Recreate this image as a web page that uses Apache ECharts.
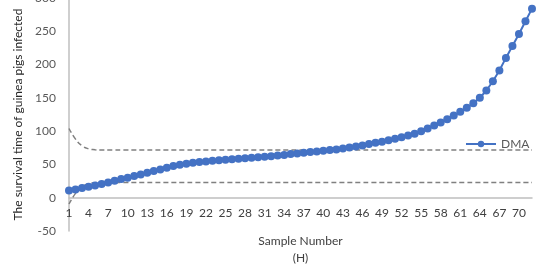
<!DOCTYPE html>
<html>
<head>
<meta charset="utf-8">
<script src="https://cdn.jsdelivr.net/npm/echarts@6/dist/echarts.min.js"></script>
<style>
html,body{margin:0;padding:0;background:#fff;}
#chart{width:543px;height:276px;}
</style>
</head>
<body>
<div id="chart"></div>
<script>
var categories = [];
for (var i = 1; i <= 72; i++) categories.push(String(i));

var dma = [11, 12.5, 14.5, 16.5, 18.5, 20.5, 23, 25.5, 28, 30,
  32.5, 35, 37.5, 40, 42.5, 45, 47.5, 49.5, 51, 52.5,
  53.5, 54.5, 55.5, 56.3, 57, 57.8, 58.5, 59.2, 60, 60.8,
  61.6, 62.4, 63.3, 64.2, 65.5, 66.5, 67.5, 68.5, 69.5, 70.5,
  71.5, 72.5, 74, 75.5, 77, 78.5, 80.5, 82.5, 84, 86.5,
  88.5, 91, 93.5, 96, 100, 104, 108.5, 113, 118, 123.5,
  129, 135, 142, 150, 161, 175, 191, 210, 228, 246,
  265, 284];

var upperHead = [104, 88, 78, 73.5, 72];
var upperFlat = 71.5;
var lowerHead = [-9.5, 6.5, 16.5, 21, 22.5];
var lowerFlat = 23;

var upper = [], lower = [];
for (var k = 0; k < categories.length; k++) {
  upper.push(k < upperHead.length ? upperHead[k] : upperFlat);
  lower.push(k < lowerHead.length ? lowerHead[k] : lowerFlat);
}

var yTicks = {min: -50, max: 300, interval: 50};
var FONT = 'Lato';

var chart = echarts.init(document.getElementById('chart'), null, {renderer: 'canvas'});
chart.setOption({
  animation: false,
  textStyle: {fontFamily: FONT},
  grid: {left: 69, right: 11, top: -2, bottom: 45, containLabel: false, outerBoundsMode: 'none'},
  legend: {
    data: [{name: 'DMA'}],
    left: 460, top: 133,
    itemWidth: 30, itemHeight: 8, itemGap: 5,
    textStyle: {fontFamily: FONT, fontSize: 12, color: '#595959'}
  },
  xAxis: {
    type: 'category',
    data: categories,
    boundaryGap: false,
    offset: -33,
    axisLine: {onZero: false, lineStyle: {color: '#bfbfbf', width: 1.5}},
    axisTick: {show: false},
    axisLabel: {interval: 2, margin: 9, fontFamily: FONT, fontSize: 12, color: '#404040'},
    name: 'Sample Number\n(H)',
    nameLocation: 'middle',
    nameGap: 35,
    nameTextStyle: {fontFamily: FONT, fontSize: 12, color: '#404040', lineHeight: 17}
  },
  yAxis: {
    type: 'value',
    min: yTicks.min, max: yTicks.max, interval: yTicks.interval,
    axisLine: {show: true, lineStyle: {color: '#bfbfbf', width: 1.5}},
    axisTick: {show: false},
    splitLine: {show: false},
    axisLabel: {margin: 13, fontFamily: FONT, fontSize: 12, color: '#595959'},
    name: 'The survival time of guinea pigs infected',
    nameLocation: 'middle',
    nameRotate: 90,
    nameGap: 45,
    nameTextStyle: {fontFamily: FONT, fontSize: 12, color: '#262626'}
  },
  series: [
    {
      name: 'UCL', type: 'line', data: upper, smooth: true, symbol: 'none',
      lineStyle: {color: '#808080', width: 1.5, type: [5, 3]}, z: 1
    },
    {
      name: 'LCL', type: 'line', data: lower, smooth: true, symbol: 'none',
      lineStyle: {color: '#808080', width: 1.5, type: [5, 3]}, z: 1
    },
    {
      name: 'DMA', type: 'line', data: dma, symbol: 'circle', symbolSize: 8,
      showAllSymbol: true,
      itemStyle: {color: '#4472c4'},
      lineStyle: {color: '#4472c4', width: 2}, z: 3
    }
  ]
});
</script>
</body>
</html>
